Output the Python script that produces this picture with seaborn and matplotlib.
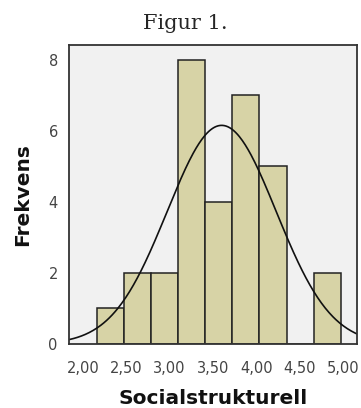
import numpy as np
import pandas as pd
import matplotlib
matplotlib.use("Agg")
import matplotlib.pyplot as plt
import seaborn as sns

# bin edges and counts
bin_edges = [2.16, 2.4725, 2.785, 3.0975, 3.41, 3.7225, 4.035, 4.3475, 4.66, 4.9725]
counts = [1, 2, 2, 8, 4, 7, 5, 0, 2]
mean_val = 3.60
sd_val = 0.628
n_total = sum(counts)

xticks = [2.0, 2.5, 3.0, 3.5, 4.0, 4.5, 5.0]
xtick_labels = ["2,00", "2,50", "3,00", "3,50", "4,00", "4,50", "5,00"]
yticks = [0, 2, 4, 6, 8]

centers = [(bin_edges[i] + bin_edges[i + 1]) / 2 for i in range(len(counts))]
df = pd.DataFrame({"x": centers, "n": counts})

sns.set_style("white")
plt.rcParams["font.family"] = ["DejaVu Sans"]

fig = plt.figure(figsize=(3.61, 4.08), dpi=100)
ax = fig.add_axes([0.191, 0.157, 0.798, 0.733])
ax.set_facecolor("#f1f1f1")

sns.histplot(data=df, x="x", weights="n", bins=bin_edges, ax=ax,
             color="#d7d3a6", alpha=1, edgecolor="#222222", linewidth=1.1)

# normal curve scaled to counts
bw = bin_edges[1] - bin_edges[0]
xs = np.linspace(1.84, 5.16, 300)
ys = n_total * bw / (sd_val * np.sqrt(2 * np.pi)) * np.exp(-0.5 * ((xs - mean_val) / sd_val) ** 2)
sns.lineplot(x=xs, y=ys, ax=ax, color="#111111", linewidth=1.2)

ax.set_xlim(1.84, 5.16)
ax.set_ylim(0, 8.42)
ax.set_xticks(xticks)
ax.set_xticklabels(xtick_labels)
ax.set_yticks(yticks)
ax.tick_params(axis="both", direction="out", width=1.2,
               labelsize=10.5, labelcolor="#444444", color="#333333")
ax.tick_params(axis="x", length=9, pad=3)
ax.tick_params(axis="y", length=7, pad=1)
for sp in ax.spines.values():
    sp.set_visible(True)
    sp.set_color("#333333")
    sp.set_linewidth(1.3)

ax.set_xlabel("Socialstrukturell", fontsize=14.5, fontweight="bold",
              color="#111111", labelpad=10)
ax.set_ylabel("Frekvens", fontsize=14.5, fontweight="bold",
              color="#111111", labelpad=12)

fig.text(0.512, 0.942, "Figur 1.", ha="center", va="center", fontsize=15,
         family=["DejaVu Serif"])

fig.savefig("out.png", dpi=100)
